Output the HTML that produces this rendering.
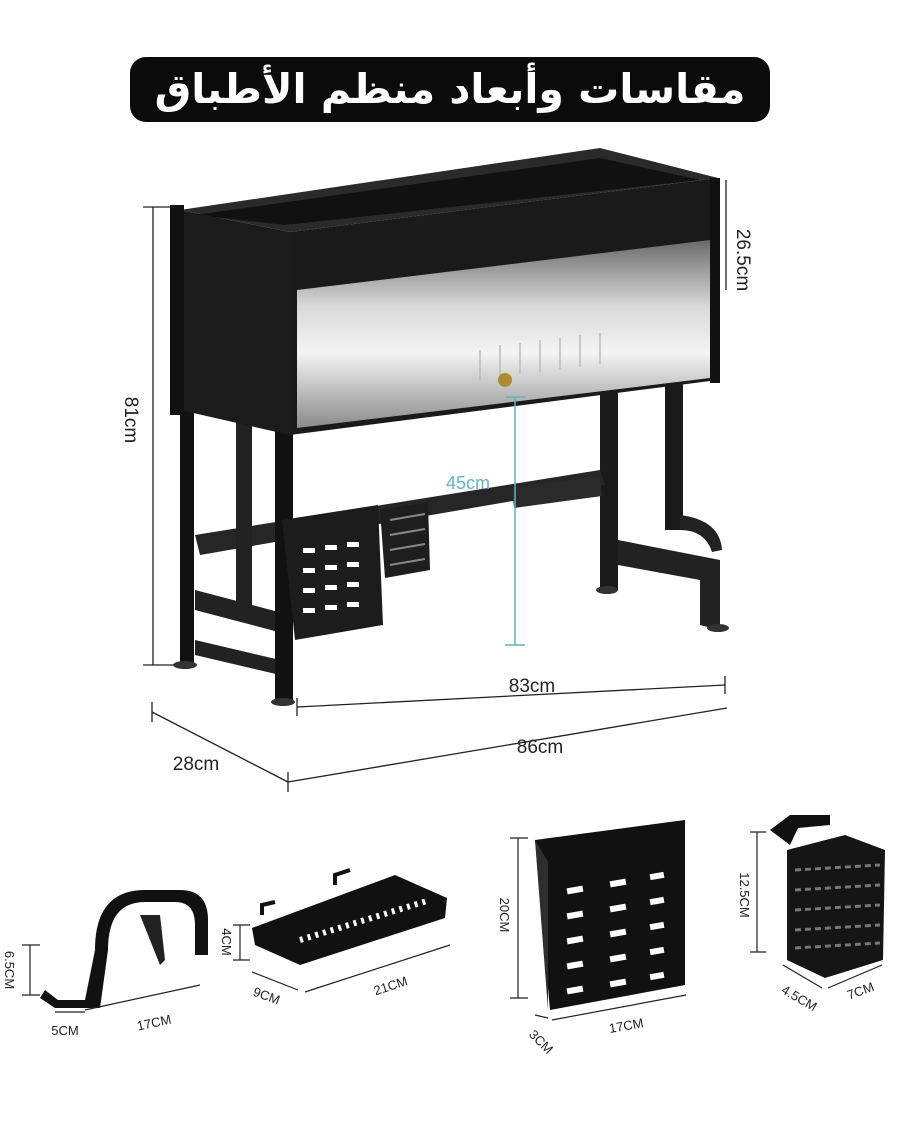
<!DOCTYPE html>
<html><head><meta charset="utf-8"><style>
html,body{margin:0;padding:0;background:#fff;}
svg{display:block;}
text{font-family:"Liberation Sans",sans-serif;}
</style></head><body>
<svg width="900" height="1125" viewBox="0 0 900 1125" xmlns="http://www.w3.org/2000/svg">
<defs>
<linearGradient id="door" x1="0" y1="0" x2="0" y2="1">
<stop offset="0" stop-color="#6a6a6a"/><stop offset="0.35" stop-color="#d8d8d8"/><stop offset="0.6" stop-color="#f4f4f4"/><stop offset="1" stop-color="#8a8a8a"/>
</linearGradient>
</defs>
<rect width="900" height="1125" fill="#fff"/>
<rect x="130" y="57" width="640" height="65" rx="16" fill="#0b0b0b"/>
<text x="450" y="103" text-anchor="middle" font-size="41" font-weight="bold" fill="#fff" style="font-family:'DejaVu Sans',sans-serif" direction="rtl">مقاسات وأبعاد منظم الأطباق</text>

<rect x="600" y="380" width="18" height="210" fill="#1a1a1a"/>
<rect x="665" y="370" width="18" height="160" fill="#1a1a1a"/>
<path d="M618,540 L720,560 L720,630 L700,625 L700,580 L618,565Z" fill="#222"/>
<path d="M680,515 Q720,520 722,550 L712,552 Q705,530 680,530Z" fill="#222"/>
<path d="M195,535 L600,470 L605,485 L200,555Z" fill="#262626"/>
<path d="M195,590 L290,615 L290,635 L195,610Z" fill="#222"/>
<path d="M195,640 L280,660 L280,675 L195,655Z" fill="#222"/>
<rect x="180" y="380" width="14" height="285" fill="#111"/>
<rect x="236" y="420" width="16" height="190" fill="#222"/>
<rect x="275" y="430" width="18" height="270" fill="#111"/>
<ellipse cx="185" cy="665" rx="12" ry="4" fill="#333"/>
<ellipse cx="283" cy="702" rx="12" ry="4" fill="#333"/>
<ellipse cx="607" cy="590" rx="11" ry="4" fill="#333"/>
<ellipse cx="718" cy="628" rx="11" ry="4" fill="#333"/>
<path d="M282,520 L378,505 L383,625 L295,640Z" fill="#1c1c1c"/>
<g fill="#fff">
<rect x="303" y="548" width="12" height="5"/><rect x="325" y="545" width="12" height="5"/><rect x="347" y="542" width="12" height="5"/>
<rect x="303" y="568" width="12" height="5"/><rect x="325" y="565" width="12" height="5"/><rect x="347" y="562" width="12" height="5"/>
<rect x="303" y="588" width="12" height="5"/><rect x="325" y="585" width="12" height="5"/><rect x="347" y="582" width="12" height="5"/>
<rect x="303" y="608" width="12" height="5"/><rect x="325" y="605" width="12" height="5"/><rect x="347" y="602" width="12" height="5"/>
</g>
<path d="M380,510 L428,502 L430,570 L385,578Z" fill="#1e1e1e"/>
<path d="M390,520 L425,514 M390,535 L425,529 M390,550 L425,544 M390,565 L425,559" stroke="#888" stroke-width="2"/>
<path d="M512,488 L600,476 L602,496 L514,508Z" fill="#2a2a2a"/>
<path d="M180,210 L600,148 L718,178 L290,232Z" fill="#2a2a2a"/>
<path d="M195,215 L600,158 L700,180 L285,225Z" fill="#111"/>
<path d="M180,210 L290,232 L290,435 L180,410Z" fill="#1b1b1b"/>
<path d="M290,232 L718,178 L718,380 L290,435Z" fill="#1a1a1a"/>
<path d="M297,290 L710,240 L710,378 L297,428Z" fill="url(#door)"/>
<g stroke="#bbb" stroke-width="1.5">
<path d="M480,350 L480,380 M500,345 L500,377 M520,343 L520,374 M540,340 L540,372 M560,338 L560,369 M580,335 L580,367 M600,333 L600,364"/>
</g>
<circle cx="505" cy="380" r="7" fill="#b08a30"/>
<rect x="710" y="178" width="10" height="205" fill="#111"/>
<rect x="170" y="205" width="14" height="210" fill="#111"/>

<g stroke="#222" stroke-width="1.3" fill="none">
<line x1="153" y1="207" x2="153" y2="665"/><line x1="143" y1="207" x2="175" y2="207"/><line x1="143" y1="665" x2="175" y2="665"/>
<line x1="726" y1="180" x2="726" y2="290"/>
<line x1="297" y1="707" x2="725" y2="685"/><line x1="297" y1="698" x2="297" y2="716"/><line x1="725" y1="676" x2="725" y2="694"/>
<line x1="288" y1="782" x2="727" y2="708"/><line x1="288" y1="772" x2="288" y2="792"/>
<line x1="152" y1="712" x2="288" y2="782"/><line x1="152" y1="702" x2="152" y2="722"/>
</g>
<line x1="515" y1="397" x2="515" y2="645" stroke="#5fb6c4" stroke-width="1.5"/>
<line x1="505" y1="397" x2="525" y2="397" stroke="#5fb6c4" stroke-width="1.5"/>
<line x1="505" y1="645" x2="525" y2="645" stroke="#5fb6c4" stroke-width="1.5"/>
<text x="468" y="489" font-size="18" fill="#5fb6c4" text-anchor="middle">45cm</text>
<text x="0" y="0" font-size="19" fill="#222" transform="translate(125,420) rotate(90)" text-anchor="middle">81cm</text>
<text x="0" y="0" font-size="19" fill="#222" transform="translate(737,260) rotate(90)" text-anchor="middle">26.5cm</text>
<text x="532" y="692" font-size="19" fill="#222" text-anchor="middle">83cm</text>
<text x="540" y="753" font-size="19" fill="#222" text-anchor="middle">86cm</text>
<text x="196" y="770" font-size="19" fill="#222" text-anchor="middle">28cm</text>

<path d="M45,990 L58,1000 L85,1000 L95,950 Q95,890 145,890 L180,890 Q208,890 208,920 L208,955 L195,955 L195,925 Q195,902 175,902 L145,902 Q108,902 108,950 L100,1008 L55,1008 L40,998Z" fill="#111"/>
<path d="M140,915 L160,915 L165,960 L160,965Z" fill="#222"/>
<path d="M30,945 L30,995 M22,945 L40,945 M22,995 L40,995" stroke="#222" stroke-width="1.2" fill="none"/>
<path d="M55,1012 L85,1012 M85,1010 L200,985" stroke="#222" stroke-width="1.2"/>
<text font-size="13" fill="#222" transform="translate(5,970) rotate(90)" text-anchor="middle">6.5CM</text>
<text x="65" y="1035" font-size="13" fill="#222" text-anchor="middle">5CM</text>
<text font-size="13" fill="#222" transform="translate(155,1027) rotate(-12)" text-anchor="middle">17CM</text>
<path d="M252,928 L395,875 L447,898 L445,918 L300,965 L255,945Z" fill="#111"/>
<path d="M300,940 L430,900" stroke="#fff" stroke-width="6" stroke-dasharray="3 5"/>
<path d="M262,915 L262,905 L275,902 M335,885 L335,875 L350,870" stroke="#111" stroke-width="4" fill="none"/>
<path d="M240,925 L240,960 M233,925 L250,925 M233,960 L250,960" stroke="#222" stroke-width="1.2" fill="none"/>
<path d="M252,972 L298,990 M305,992 L450,945" stroke="#222" stroke-width="1.2"/>
<text font-size="13" fill="#222" transform="translate(222,942) rotate(90)" text-anchor="middle">4CM</text>
<text font-size="13" fill="#222" transform="translate(265,1000) rotate(20)" text-anchor="middle">9CM</text>
<text font-size="13" fill="#222" transform="translate(392,990) rotate(-18)" text-anchor="middle">21CM</text>
<path d="M535,840 L685,820 L685,985 L550,1010 Z" fill="#111"/>
<path d="M535,840 L548,862 L548,1010 Z" fill="#2e2e2e"/>
<g fill="#fff">
<rect x="567" y="887" width="16" height="6" transform="rotate(-10 575 890)"/><rect x="610" y="880" width="16" height="6" transform="rotate(-10 618 883)"/><rect x="650" y="873" width="14" height="6" transform="rotate(-10 657 876)"/>
<rect x="567" y="912" width="16" height="6" transform="rotate(-10 575 915)"/><rect x="610" y="905" width="16" height="6" transform="rotate(-10 618 908)"/><rect x="650" y="898" width="14" height="6" transform="rotate(-10 657 901)"/>
<rect x="567" y="937" width="16" height="6" transform="rotate(-10 575 940)"/><rect x="610" y="930" width="16" height="6" transform="rotate(-10 618 933)"/><rect x="650" y="923" width="14" height="6" transform="rotate(-10 657 926)"/>
<rect x="567" y="962" width="16" height="6" transform="rotate(-10 575 965)"/><rect x="610" y="955" width="16" height="6" transform="rotate(-10 618 958)"/><rect x="650" y="948" width="14" height="6" transform="rotate(-10 657 951)"/>
<rect x="567" y="987" width="16" height="6" transform="rotate(-10 575 990)"/><rect x="610" y="980" width="16" height="6" transform="rotate(-10 618 983)"/><rect x="650" y="973" width="14" height="6" transform="rotate(-10 657 976)"/>
</g>
<path d="M518,838 L518,998 M510,838 L528,838 M510,998 L528,998" stroke="#222" stroke-width="1.2" fill="none"/>
<path d="M535,1015 L548,1018 M552,1020 L686,995" stroke="#222" stroke-width="1.2"/>
<text font-size="13" fill="#222" transform="translate(500,915) rotate(90)" text-anchor="middle">20CM</text>
<text font-size="13" fill="#222" transform="translate(538,1045) rotate(45)" text-anchor="middle">3CM</text>
<text font-size="13" fill="#222" transform="translate(627,1030) rotate(-10)" text-anchor="middle">17CM</text>
<path d="M770,830 L790,815 L830,815 L830,825 L798,828 L790,845Z" fill="#111"/>
<path d="M787,850 L845,835 L885,850 L883,960 L825,978 L787,960Z" fill="#151515"/>
<path d="M795,870 L880,865 M795,890 L880,885 M795,910 L880,905 M795,930 L880,925 M795,948 L880,943" stroke="#777" stroke-width="3" stroke-dasharray="6 4"/>
<path d="M757,832 L757,952 M750,832 L766,832 M750,952 L766,952" stroke="#222" stroke-width="1.2" fill="none"/>
<path d="M783,965 L822,988 M828,988 L882,965" stroke="#222" stroke-width="1.2"/>
<text font-size="13" fill="#222" transform="translate(740,895) rotate(90)" text-anchor="middle">12.5CM</text>
<text font-size="13" fill="#222" transform="translate(797,1002) rotate(30)" text-anchor="middle">4.5CM</text>
<text font-size="13" fill="#222" transform="translate(862,995) rotate(-20)" text-anchor="middle">7CM</text>
</svg>
</body></html>
